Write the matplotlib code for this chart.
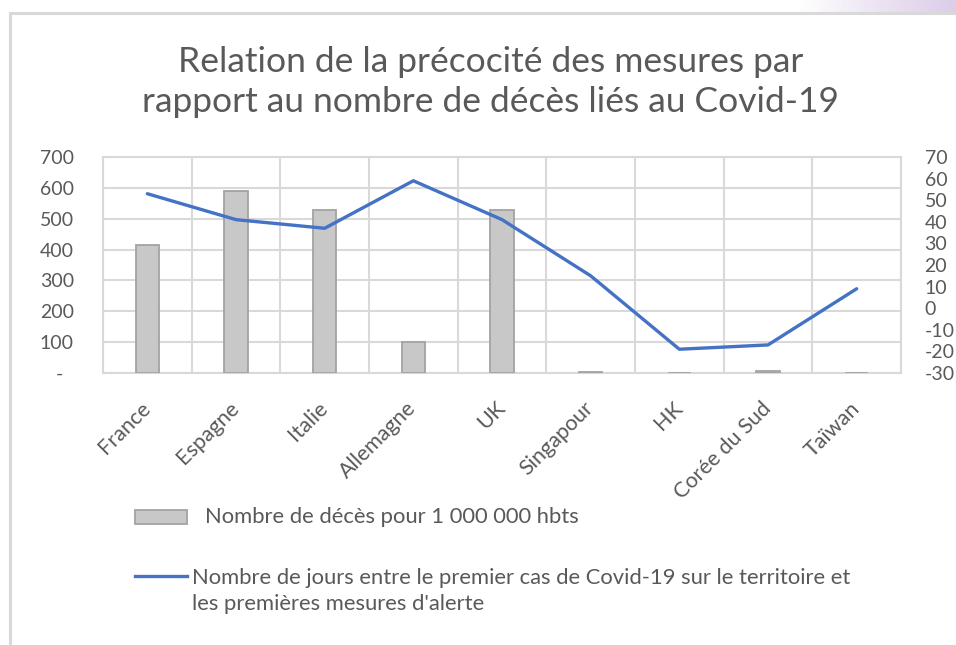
import matplotlib

matplotlib.use("Agg")
import matplotlib.pyplot as plt
import numpy as np
from matplotlib.patches import Rectangle
from matplotlib.lines import Line2D

plt.rcParams.update({
    "font.family": ["Lato", "DejaVu Sans"],
    "font.size": 14,
    "figure.dpi": 100,
    "axes.unicode_minus": False,
})

# data
countries = ["France", "Espagne", "Italie", "Allemagne", "UK",
             "Singapour", "HK", "Corée du Sud", "Taïwan"]
deaths_per_million = [415, 590, 528, 100, 528, 4, 1, 5, 0.3]
days_to_measures = [53, 41, 37, 59, 41, 15, -19, -17, 9]

left_ticks = [0, 100, 200, 300, 400, 500, 600, 700]
left_labels = ["-  ", "100", "200", "300", "400", "500", "600", "700"]
right_ticks = [-30, -20, -10, 0, 10, 20, 30, 40, 50, 60, 70]

title = "Relation de la précocité des mesures par\nrapport au nombre de décès liés au Covid-19"
bar_label = "Nombre de décès pour 1 000 000 hbts"
line_label = ("Nombre de jours entre le premier cas de Covid-19 sur le territoire et\n"
              "les premières mesures d'alerte")

TXT = "#595959"
GRID = "#d9d9d9"
BLUE = "#4472c4"
W, H = 956, 645


def fx(px):
    return px / W


def fy(py):
    return 1 - py / H


fig = plt.figure(figsize=(W / 100, H / 100), dpi=100)
fig.patch.set_facecolor("white")

# frame of the screenshot: purple band top-right, grey borders
band = fig.add_axes([fx(800), fy(12), fx(156), 12 / H])
grad = np.linspace(0, 1, 256).reshape(1, -1)
band.imshow(grad, aspect="auto", cmap=matplotlib.colors.LinearSegmentedColormap.from_list(
    "lav", ["#ffffff", "#ece4f2", "#dccde9"]), extent=[0, 1, 0, 1])
band.axis("off")
fig.add_artist(Line2D([fx(10), 1], [fy(13), fy(13)], color=GRID, lw=2.2))
fig.add_artist(Line2D([fx(10), fx(10)], [fy(13), 0], color=GRID, lw=2.2))

x = np.arange(len(countries))

ax = fig.add_axes([fx(103), fy(373), fx(901 - 103), (373 - 157) / H])
ax.bar(x, deaths_per_million, width=0.26, color="#c8c8c8", edgecolor="#a3a3a3",
       linewidth=1.3, zorder=3)
ax.set_xlim(-0.5, len(countries) - 0.5)
ax.set_ylim(0, 700)
ax.set_yticks(left_ticks)
ax.set_yticklabels(left_labels)
ax.set_xticks(x)
ax.set_xticklabels(countries, rotation=45, ha="right", va="center",
                   rotation_mode="anchor")
ax.set_xticks(np.arange(-0.5, len(countries), 1), minor=True)
ax.grid(axis="y", which="major", color=GRID, lw=1.5, zorder=0)
ax.grid(axis="x", which="minor", color=GRID, lw=1.5, zorder=0)
ax.tick_params(axis="x", which="both", length=0, pad=23, colors=TXT, labelsize=15.5)
ax.tick_params(axis="y", length=0, pad=21, colors=TXT, labelsize=14)
for s in ax.spines.values():
    s.set_color(GRID)
    s.set_linewidth(1.5)

ax2 = ax.twinx()
ax2.plot(x, days_to_measures, color=BLUE, lw=2.4, solid_capstyle="round",
         solid_joinstyle="round", zorder=4)
ax2.set_ylim(-30, 70)
ax2.set_yticks(right_ticks)
ax2.tick_params(axis="y", length=0, pad=17, colors=TXT, labelsize=14)
for s in ax2.spines.values():
    s.set_visible(False)

fig.text(fx(491), fy(82), title, ha="center", va="center", fontsize=25.5,
         color=TXT, linespacing=1.33)

# legend
fig.add_artist(Rectangle((fx(135), fy(524)), fx(52), 14 / H, transform=fig.transFigure,
                         facecolor="#c8c8c8", edgecolor="#a3a3a3", lw=1.3))
fig.text(fx(205), fy(517), bar_label, ha="left", va="center", fontsize=15.8, color=TXT)
fig.add_artist(Line2D([fx(135), fx(187)], [fy(576), fy(576)], color=BLUE, lw=2.4))
fig.text(fx(192), fy(591), line_label, ha="left", va="center", fontsize=15.8,
         color=TXT, linespacing=1.38)

fig.savefig("out.png", dpi=100, facecolor="white")
